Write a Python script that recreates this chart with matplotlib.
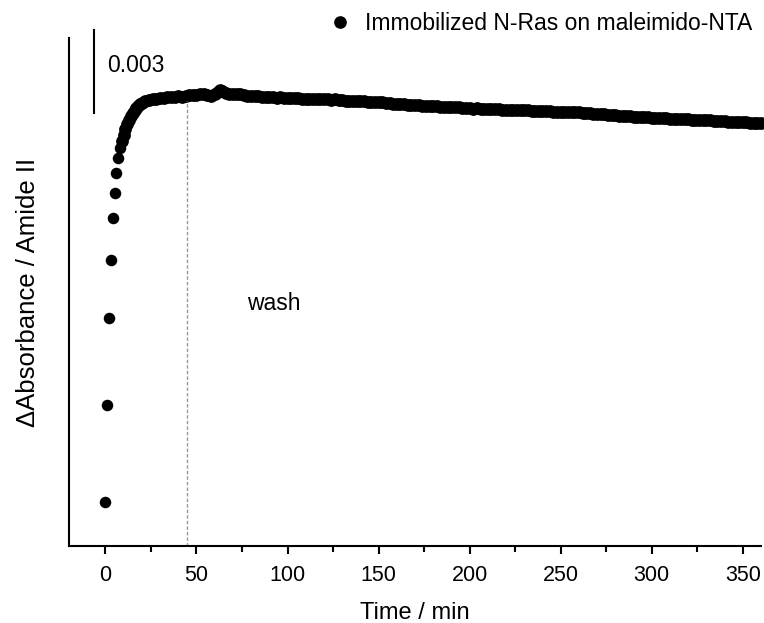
import numpy as np
import matplotlib
matplotlib.use('Agg')
from matplotlib import pyplot as plt

plt.rcParams['font.family'] = ['Liberation Sans', 'DejaVu Sans']

# time after injection (min) and absorbance change of amide II (in 1e-3)
tempo_ini = [0, 1, 2, 3, 4, 5, 6, 7, 8, 9, 10, 11, 12, 13, 14, 15, 16, 17, 18, 19, 20,
             22, 24, 26, 28, 30, 32, 34, 36, 38, 40, 42, 44, 46, 48, 50, 52, 54, 56, 58,
             60, 62, 63, 64, 66, 68, 70]
absorb_ini = [0.00, 3.51, 6.65, 8.75, 10.26, 11.17, 11.89, 12.43, 12.79, 13.05, 13.26,
              13.48, 13.66, 13.81, 13.95, 14.06, 14.17, 14.24, 14.31, 14.37, 14.43,
              14.49, 14.53, 14.55, 14.58, 14.60, 14.61, 14.62, 14.64, 14.63, 14.66,
              14.65, 14.68, 14.70, 14.72, 14.71, 14.73, 14.74, 14.72, 14.69,
              14.73, 14.82, 14.89, 14.85, 14.79, 14.75, 14.73]

# after 72 min one spectrum every 2 min
tempo_fim = list(range(72, 361, 2))
absorb_fim = [14.75, 14.73, 14.71, 14.69, 14.69, 14.67, 14.66, 14.64, 14.64, 14.62,
              14.63, 14.61, 14.62, 14.61, 14.60, 14.61, 14.59, 14.59, 14.58, 14.58,
              14.57, 14.57, 14.56, 14.57, 14.56, 14.56, 14.54, 14.56, 14.53, 14.52,
              14.51, 14.51, 14.49, 14.50, 14.48, 14.49, 14.47, 14.46, 14.46, 14.44,
              14.44, 14.43, 14.42, 14.40, 14.40, 14.39, 14.38, 14.36, 14.36, 14.35,
              14.34, 14.33, 14.32, 14.31, 14.30, 14.31, 14.29, 14.28, 14.27, 14.28,
              14.26, 14.26, 14.24, 14.24, 14.23, 14.22, 14.23, 14.21, 14.21, 14.19,
              14.20, 14.19, 14.19, 14.18, 14.18, 14.17, 14.18, 14.17, 14.17, 14.16,
              14.15, 14.14, 14.14, 14.13, 14.13, 14.12, 14.12, 14.11, 14.11, 14.11,
              14.10, 14.10, 14.09, 14.09, 14.08, 14.06, 14.05, 14.05, 14.03, 14.03,
              14.01, 14.01, 14.00, 13.98, 13.98, 13.96, 13.96, 13.95, 13.94, 13.93,
              13.92, 13.92, 13.91, 13.90, 13.89, 13.88, 13.88, 13.87, 13.87, 13.86,
              13.85, 13.85, 13.84, 13.83, 13.83, 13.82, 13.81, 13.81, 13.80, 13.79,
              13.79, 13.78, 13.77, 13.76, 13.76, 13.75, 13.74, 13.74, 13.73, 13.72,
              13.72, 13.71, 13.70, 13.69, 13.68]

t_lavagem = 45
barra = 3.0  # scale bar, 1e-3

y_ini = np.array(absorb_ini) * 1e-3
y_fim = np.array(absorb_fim) * 1e-3

fig = plt.figure(figsize=(7.64, 6.23), dpi=100)
ax = fig.add_axes([69/764, 1 - 546/623, 692/764, 508/623])

ax.plot(tempo_ini[:9], y_ini[:9], 'o', color='black', markersize=8.3,
        markeredgewidth=0, label='Immobilized N-Ras on maleimido-NTA')
ax.plot(tempo_ini[9:] + tempo_fim, np.concatenate([y_ini[9:], y_fim]), 'o',
        color='black', markersize=9.2, markeredgewidth=0, clip_on=False)

ax.set_xlim(-20, 360)
ax.set_ylim(-1.59e-3, 16.77e-3)

ax.vlines(t_lavagem, -1.59e-3, 14.49e-3, color='#999999', linewidth=1,
          linestyle=(0, (2.5, 1.5)))

# scale bar
ax.plot([-6.0, -6.0], [14.06e-3, 14.06e-3 + barra * 1e-3], color='black',
        linewidth=1.5, clip_on=False)
ax.text(1.1, 15.76e-3, '0.003', fontsize=16.5, va='center', ha='left')
ax.text(78, 7.19e-3, 'wash', fontsize=16.5, va='center', ha='left')

for lado in ['top', 'right']:
    ax.spines[lado].set_visible(False)
for lado in ['left', 'bottom']:
    ax.spines[lado].set_linewidth(1.5)

ax.set_yticks([])
ax.set_xticks(range(0, 351, 50))
ax.set_xticks(range(25, 351, 50), minor=True)
ax.tick_params(axis='x', which='major', direction='out', length=6, width=1.5,
               pad=8, labelsize=15.5)
ax.tick_params(axis='x', which='minor', direction='out', length=4, width=1.5)

ax.set_xlabel('Time / min', fontsize=17, labelpad=11)
ax.set_ylabel('\u0394Absorbance / Amide II', fontsize=18.5, labelpad=21)

fig.legend(loc='center right', bbox_to_anchor=(752/764, 1 - 24/623),
           frameon=False, fontsize=16.5, handletextpad=0.6, handlelength=1.0,
           borderpad=0, borderaxespad=0, markerscale=1.1)

plt.savefig('out.png', dpi=100)
